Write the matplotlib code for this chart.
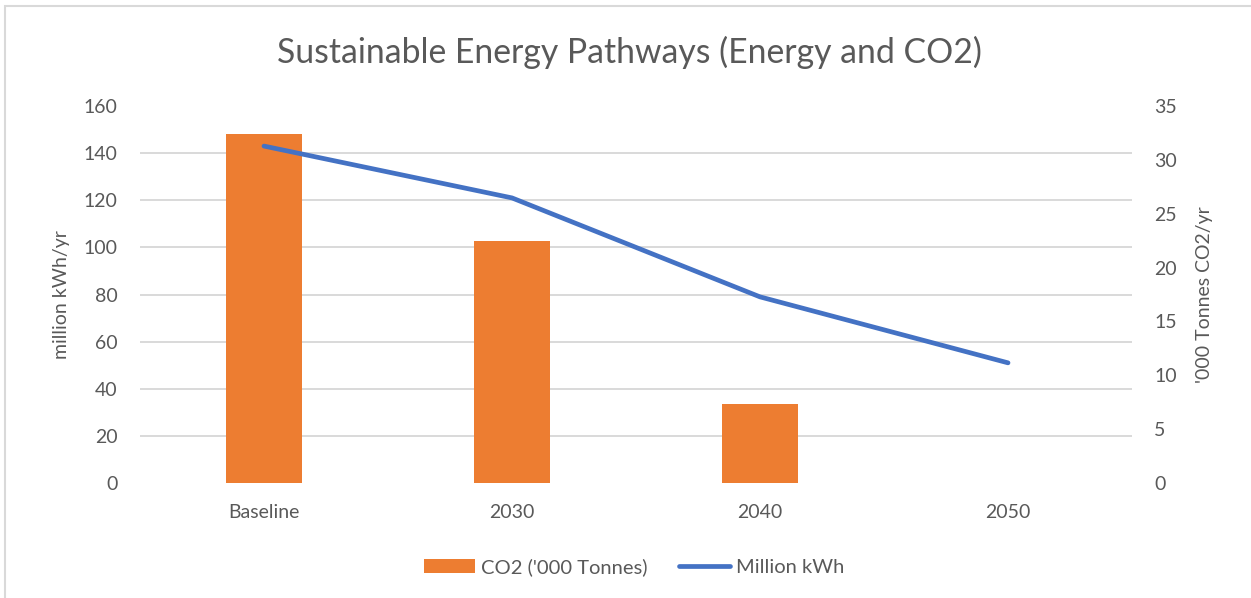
import numpy as np
import matplotlib
matplotlib.use("Agg")
import matplotlib.pyplot as plt
from matplotlib.patches import Patch, Rectangle
from matplotlib.lines import Line2D

# data
categories = ["Baseline", "2030", "2040", "2050"]
co2_kt = [32.4, 22.5, 7.3, 0.0]          # '000 tonnes CO2/yr (right axis)
energy_mkwh = [143, 121, 79, 51]         # million kWh/yr (left axis)

plt.rcParams['font.family'] = ['Lato', 'DejaVu Sans']
txt = '#595959'
orange = '#ED7D31'
blue = '#4472C4'

fig = plt.figure(figsize=(12.51, 5.98), dpi=100)
ax = fig.add_axes([0.1119, 0.1923, 0.793, 0.6304])
ax2 = ax.twinx()

# bars on the right axis, behind the line
x = np.arange(len(categories))
ax2.bar(x, co2_kt, width=0.306, color=orange, zorder=2)
ax2.set_ylim(0, 35)
ax2.set_yticks(np.arange(0, 36, 5))
# gridlines follow the left axis ticks (0..160 by 20), drawn on ax2 so bars cover them
left_ticks = np.arange(0, 161, 20)
ax2.set_yticks(left_ticks * 35 / 160, minor=True)
ax2.grid(axis='y', which='minor', color='#D9D9D9', linewidth=1.4, zorder=0)
ax2.grid(axis='y', which='major', visible=False)
ax2.set_axisbelow(True)

ax.plot(x, energy_mkwh, color=blue, linewidth=3.4, solid_capstyle='round', zorder=3)
ax.set_ylim(0, 160)
ax.set_yticks(left_ticks)
ax.set_xlim(-0.5, 3.5)
ax.set_xticks(x)
ax.set_xticklabels(categories)

ax.set_zorder(ax2.get_zorder() + 1)
ax.patch.set_visible(False)

for a in (ax, ax2):
    for s in a.spines.values():
        s.set_visible(False)
    a.tick_params(which='both', length=0, colors=txt, labelsize=14)
ax.tick_params(axis='y', pad=16)
ax.tick_params(axis='x', pad=15)
ax2.tick_params(axis='y', pad=16)

ax.set_ylabel("million kWh/yr", color=txt, fontsize=14, labelpad=10)
ax2.set_ylabel("'000 Tonnes CO2/yr", color=txt, fontsize=14, labelpad=14)

fig.text(0.503, 0.912, "Sustainable Energy Pathways (Energy and CO2)",
         ha='center', va='center', fontsize=24.3, color=txt)

handles = [Patch(facecolor=orange, edgecolor='none'),
           Line2D([0], [0], color=blue, linewidth=3.4, solid_capstyle='round')]
fig.legend(handles, ["CO2 ('000 Tonnes)", "Million kWh"], loc='center',
           bbox_to_anchor=(0.507, 0.052), ncol=2, frameon=False,
           fontsize=14.5, labelcolor=txt, handlelength=2.5, handletextpad=0.3,
           columnspacing=1.6)

# thin outer frame like the chart area border
fig.patches.append(Rectangle((0.004, -0.01), 1.1, 1.0, transform=fig.transFigure,
                             fill=False, edgecolor='#D9D9D9', linewidth=1.5))

fig.savefig("out.png", dpi=100)
